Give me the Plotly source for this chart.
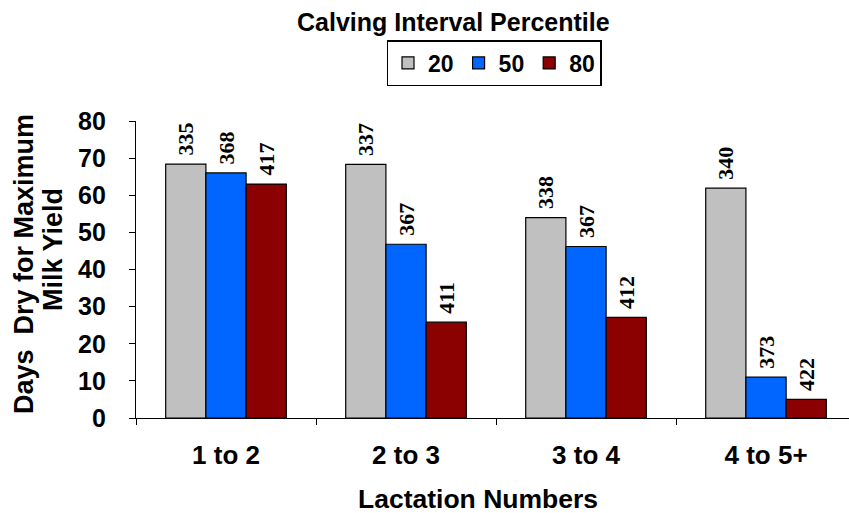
import plotly.graph_objects as go

categories = ["1 to 2", "2 to 3", "3 to 4", "4 to 5+"]
series_names = ["20", "50", "80"]
values_20 = [68.4, 68.3, 54.0, 61.9]
values_50 = [66.0, 46.8, 46.2, 11.0]
values_80 = [63.0, 25.8, 27.1, 5.0]
labels_20 = ["335", "337", "338", "340"]
labels_50 = ["368", "367", "367", "373"]
labels_80 = ["417", "411", "412", "422"]
colors = ["#C0C0C0", "#0066FF", "#8B0000"]

SANS = "Liberation Sans"
SERIF = "Liberation Serif"

W, H = 849, 513
L, R, T, B = 136, 0, 121, 95
pw = W - L - R
ph = H - T - B


def px(x):
    return (x - L) / pw


def py(y):
    return (H - B - y) / ph


fig = go.Figure()
for name, vals, labs, col in zip(series_names, [values_20, values_50, values_80],
                                 [labels_20, labels_50, labels_80], colors):
    fig.add_trace(go.Bar(
        x=categories, y=vals, name=name, text=["\u00a0" + s for s in labs],
        textposition="outside", textangle=-90, constraintext="none",
        cliponaxis=False,
        textfont=dict(family=SERIF, size=22, color="black", weight="bold"),
        marker=dict(color=col, line=dict(color="black", width=1.2)),
    ))

fig.update_layout(
    width=W, height=H,
    margin=dict(l=L, r=R, t=T, b=B),
    plot_bgcolor="white", paper_bgcolor="white",
    barmode="group", bargap=0.33, bargroupgap=0,
    font=dict(family=SANS, color="black", size=24, weight="bold"),
    showlegend=True,
    legend=dict(orientation="h", x=px(494), xanchor="center", y=py(86), yanchor="bottom",
                xref="paper", yref="paper",
                bordercolor="black", borderwidth=1.5, bgcolor="white",
                font=dict(family=SANS, size=23, weight="bold"),
                itemwidth=30, tracegroupgap=0),
    xaxis=dict(range=[-0.5, 3.461], showline=True, linecolor="black", linewidth=1.2,
               ticks="outside", tickson="boundaries", ticklen=6, tickcolor="black",
               ticklabelstandoff=14,
               tickfont=dict(family=SANS, size=26, weight="bold"), showgrid=False),
    yaxis=dict(range=[0, 80], dtick=10, showline=True, linecolor="black", linewidth=1.2,
               ticks="outside", ticklen=6, tickcolor="black", showgrid=False, zeroline=False,
               ticklabelstandoff=18,
               tickfont=dict(family=SANS, size=25, weight="bold")),
    annotations=[
        dict(text="Calving Interval Percentile", x=px(453), y=py(22), xref="paper", yref="paper",
             xanchor="center", yanchor="middle",
             showarrow=False, font=dict(family=SANS, size=25, weight="bold")),
        dict(text="Lactation Numbers", x=px(478), y=py(499), xref="paper", yref="paper",
             xanchor="center", yanchor="middle",
             showarrow=False, font=dict(family=SANS, size=26.5, weight="bold")),
        dict(text="Days  Dry for Maximum", x=px(24), y=py(264), xref="paper", yref="paper",
             xanchor="center", yanchor="middle",
             textangle=-90, showarrow=False, font=dict(family=SANS, size=27, weight="bold")),
        dict(text="Milk Yield", x=px(53), y=py(250), xref="paper", yref="paper",
             xanchor="center", yanchor="middle",
             textangle=-90, showarrow=False, font=dict(family=SANS, size=27, weight="bold")),
    ],
)

fig.write_html("out.html")
